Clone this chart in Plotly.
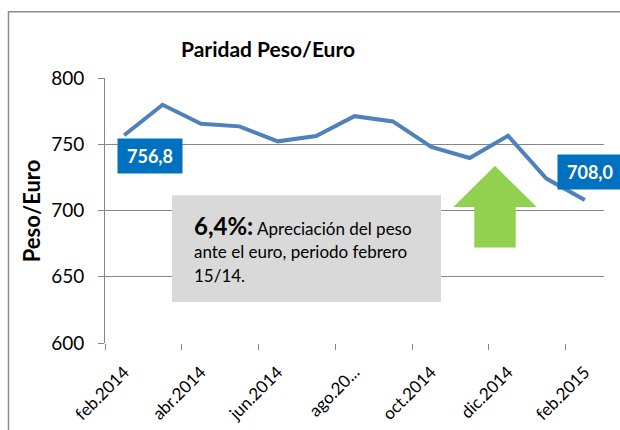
import plotly.graph_objects as go

months = ["feb.2014", "mar.2014", "abr.2014", "may.2014", "jun.2014", "jul.2014",
          "ago.2014", "sep.2014", "oct.2014", "nov.2014", "dic.2014", "ene.2015",
          "feb.2015"]
peso_euro = [756.8, 779.8, 765.5, 763.5, 752.2, 756.2, 771.2, 767.2, 747.9,
             739.6, 756.4, 724.1, 708.0]
tick_idx = [0, 2, 4, 6, 8, 10, 12]
tick_text = ["feb.2014", "abr.2014", "jun.2014", "ago.20...", "oct.2014",
             "dic.2014", "feb.2015"]
note_lines = ["<b><span style='font-size:24px'>6,4%:</span></b> Apreciación del peso",
              "ante el euro, periodo febrero",
              "15/14."]

W, H = 620, 430
ML, MR, MT = 105, 16, 77.5
MB = H - 343
PW, PH = W - ML - MR, H - MT - MB


def px(x):
    # pixel x -> paper
    return (x - ML) / PW


def py(y):
    # pixel y -> paper
    return (H - MB - y) / PH


FONT = "Lato"
x = list(range(len(months)))

fig = go.Figure()
fig.add_trace(go.Scatter(
    x=x, y=peso_euro, mode="lines",
    line=dict(color="#4F81BD", width=4),
    hoverinfo="skip", showlegend=False,
))

shapes = [
    # outer frame
    dict(type="rect", xref="paper", yref="paper", x0=px(8.5), x1=px(660),
         y0=py(480), y1=py(11), line=dict(color="#8C8C8C", width=1.5),
         fillcolor="rgba(0,0,0,0)", layer="below"),
    # grey note box
    dict(type="rect", xref="paper", yref="paper", x0=px(172), x1=px(441),
         y0=py(302), y1=py(195), line=dict(width=0), fillcolor="#D9D9D9"),
    # green up arrow
    dict(type="path", xref="paper", yref="paper",
         path="M {a},{b} L {c},{b} L {c},{d} L {e},{d} L {f},{g} L {h},{d} L {a},{d} Z".format(
             a=px(474.3), b=py(247.3), c=px(515.7), d=py(206.7),
             e=px(536.7), f=px(495), g=py(165.5), h=px(453.3)),
         line=dict(width=0), fillcolor="#92D050"),
]

annotations = [
    dict(text="<b>Paridad Peso/Euro</b>", xref="paper", yref="paper",
         x=px(268), y=py(48), xanchor="center", yanchor="middle",
         showarrow=False, font=dict(size=21, color="#000000", family=FONT)),
    dict(text="<b>Peso/Euro</b>", xref="paper", yref="paper",
         x=px(31), y=py(211), xanchor="center", yanchor="middle",
         textangle=-90, showarrow=False,
         font=dict(size=22, color="#000000", family=FONT)),
    dict(text="<b>" + f"{peso_euro[0]:.1f}".replace(".", ",") + "</b>",
         x=x[0], y=peso_euro[0], xshift=26, yshift=-20.5, showarrow=False,
         bgcolor="#0070C0", width=60, height=30, borderpad=2,
         font=dict(size=18, color="#FFFFFF", family=FONT)),
    dict(text="<b>" + f"{peso_euro[-1]:.1f}".replace(".", ",") + "</b>",
         x=x[-1], y=peso_euro[-1], xshift=5, yshift=28, showarrow=False,
         bgcolor="#0070C0", width=60, height=30, borderpad=2,
         font=dict(size=18, color="#FFFFFF", family=FONT)),
]
for line, yc in zip(note_lines, [225, 251.5, 275]):
    annotations.append(dict(
        text=line, xref="paper", yref="paper", x=px(192), y=py(yc),
        xanchor="left", yanchor="middle", align="left", showarrow=False,
        font=dict(size=17, color="#000000", family=FONT)))

fig.update_layout(
    width=W, height=H,
    margin=dict(l=ML, r=MR, t=MT, b=MB, pad=0),
    paper_bgcolor="white", plot_bgcolor="white",
    shapes=shapes, annotations=annotations,
    font=dict(family=FONT, color="#000000"),
)
fig.update_xaxes(
    range=[-0.5, len(months) - 0.5], tickvals=tick_idx, ticktext=tick_text,
    tickangle=-45, ticks="", showgrid=False, zeroline=False, automargin=False,
    tickfont=dict(size=17, color="#000000"), ticklabelstandoff=15,
    showline=False,
    minor=dict(tickvals=[i - 0.5 for i in range(0, len(months) + 1, 2)],
               ticks="outside", ticklen=6, tickcolor="#868686", showgrid=False),
)
fig.update_yaxes(
    range=[600, 800], dtick=50, showgrid=True, gridcolor="#868686", gridwidth=1,
    ticks="outside", ticklen=6, tickcolor="#868686", zeroline=False,
    showline=True, linecolor="#868686", linewidth=1, ticklabelstandoff=10,
    automargin=False, tickfont=dict(size=19, color="#000000"),
)

fig.write_html(
    "out.html",
    config={"displayModeBar": False},
    post_script="document.body.style.margin='0';document.body.style.overflow='hidden';",
)
